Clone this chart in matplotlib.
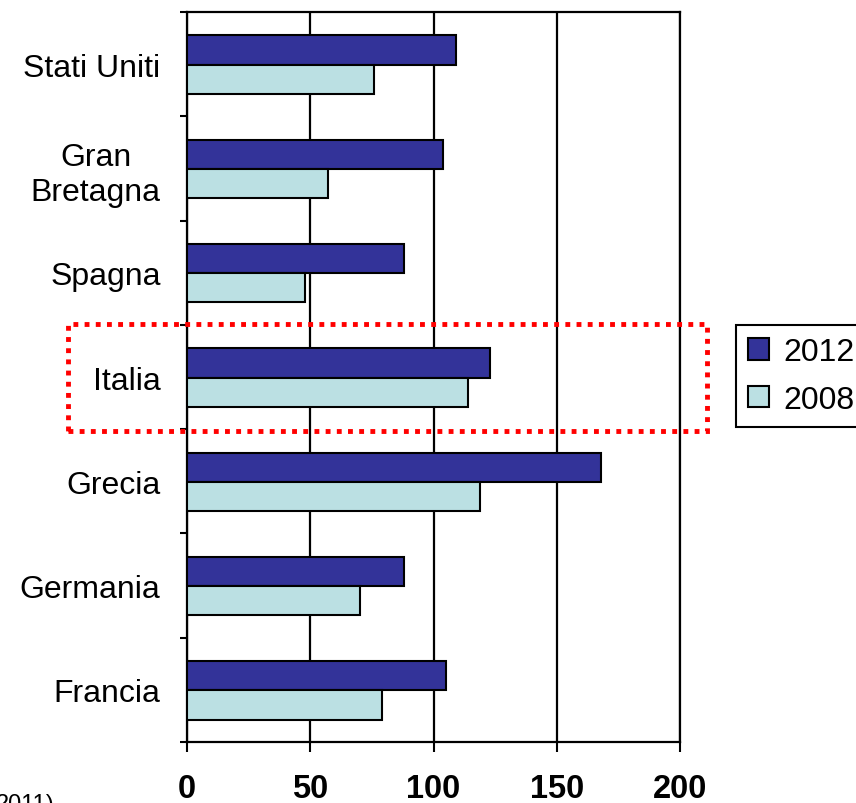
import matplotlib.pyplot as plt
from matplotlib.patches import Rectangle

# === DATA ===
countries = ['Francia', 'Germania', 'Grecia', 'Italia', 'Spagna',
             'Gran\nBretagna', 'Stati Uniti']
vals_2012 = [105, 88, 168, 123, 88, 104, 109]
vals_2008 = [79, 70, 119, 114, 48, 57, 76]
xticks = [0, 50, 100, 150, 200]

col_2012 = '#333399'
col_2008 = '#BBE0E3'

plt.rcParams['font.family'] = ['Liberation Sans', 'DejaVu Sans']

fig = plt.figure(figsize=(8.56, 8.04), dpi=100)
ax = fig.add_axes([187/856, 1 - 743/804, (680 - 187)/856, (743 - 13)/804])

pos = list(range(len(countries)))
h = 0.28
ax.barh([p + 0.135 for p in pos], vals_2012, height=h, color=col_2012,
        edgecolor='black', linewidth=1.5, label='2012', zorder=3)
ax.barh([p - 0.145 for p in pos], vals_2008, height=h, color=col_2008,
        edgecolor='black', linewidth=1.5, label='2008', zorder=3)

ax.set_xlim(0, 200)
ax.set_ylim(-0.5, len(countries) - 0.5)

# x axis
ax.set_xticks(xticks)
ax.set_xticklabels([str(t) for t in xticks], fontsize=23.5, fontweight='bold')
ax.tick_params(axis='x', direction='out', length=7, width=1.5, pad=15)
ax.grid(axis='x', color='black', linewidth=1.6, zorder=1)

# y axis: labels at centres, tick marks at category boundaries
ax.set_yticks(pos)
ax.set_yticklabels(countries, fontsize=23, multialignment='center')
ax.tick_params(axis='y', which='major', length=0, pad=19)
ax.set_yticks([p - 0.5 for p in range(len(countries) + 1)], minor=True)
ax.tick_params(axis='y', which='minor', direction='out', length=5, width=1.5)

for s in ax.spines.values():
    s.set_linewidth(1.6)

leg = fig.legend(loc='center left', bbox_to_anchor=(736/856, 1 - 377/804),
                 fontsize=23, frameon=True, fancybox=False, framealpha=1,
                 edgecolor='black', handlelength=0.65, handleheight=0.65,
                 handletextpad=0.45, borderpad=0.38, labelspacing=0.55,
                 borderaxespad=0)
leg.get_frame().set_linewidth(1.5)

# red dotted highlight around Italia
box = Rectangle((68/856, 1 - 432/804), (707 - 68)/856, (432 - 325)/804,
                transform=fig.transFigure, fill=False, edgecolor='red',
                linewidth=3.5, linestyle=(0, (1, 1.3)), zorder=5)
box.set_capstyle('butt')
fig.patches.append(box)

# source note, cut at the lower edge
fig.text(55/856, 1 - 794/804, '2011)', fontsize=17, ha='right', va='top')

fig.savefig('out.png', dpi=100)
